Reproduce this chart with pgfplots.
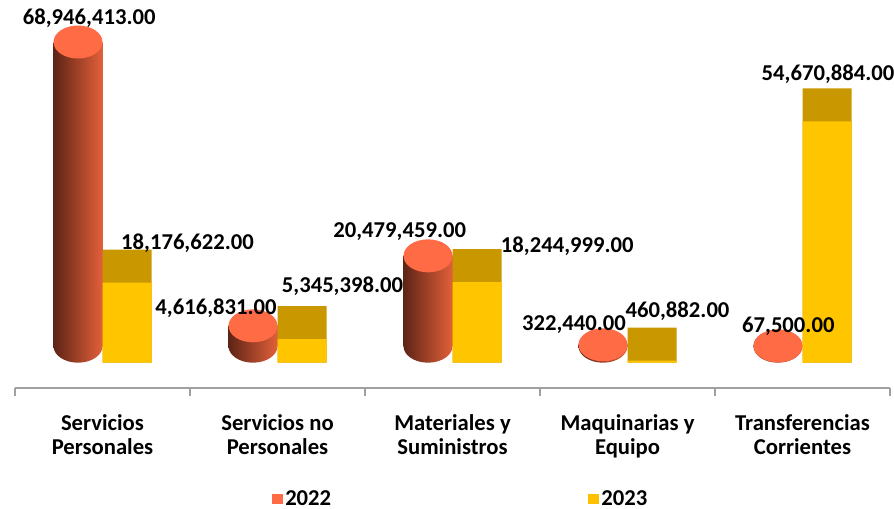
\documentclass[border=0pt]{standalone}
\usepackage{fontspec}
\setmainfont{Carlito}
\usepackage{pgfplots}
\usepackage{pgfplotstable}
\pgfplotsset{compat=1.18}
\definecolor{cA}{HTML}{5E2416}
\definecolor{cB}{HTML}{E2603A}
\definecolor{ctop}{HTML}{FF6B45}
\definecolor{boxtop}{HTML}{C99700}
\definecolor{boxfront}{HTML}{FFC600}
\definecolor{leg23}{HTML}{FFC000}
\definecolor{axgray}{HTML}{A0A0A0}
\newcommand\lbl{\fontsize{17}{18.4}\selectfont\bfseries}
\pgfdeclareplotmark{cylbot}{%
  \path[left color=cA, right color=cB, draw=none] (0pt,0pt) ellipse [x radius=18.375pt, y radius=12.375pt];}
\pgfdeclareplotmark{cyltop}{%
  \pgfpathellipse{\pgfpointorigin}{\pgfqpoint{18.375pt}{0pt}}{\pgfqpoint{0pt}{12.375pt}}%
  \pgfsetfillcolor{ctop}\pgfusepath{fill}}
\pgfdeclareplotmark{nothing}{}
\pgfplotstableread{
i v22 v23
0 68.946413 18.176622
1 4.616831 5.345398
2 20.479459 18.244999
3 0.32244 0.460882
4 0.0675 54.670884
}\datatab
\pgfplotstableread{
x y t
-0.076 78.01 68,946,413.00
0.4857 27.02 18,176,622.00
0.6486 12.28 4,616,831.00
1.3714 17.32 5,345,398.00
1.6983 29.69 20,479,459.00
2.656 26.41 18,244,999.00
2.694 8.545 322,440.00
3.286 11.56 460,882.00
3.919 8.25 67,500.00
4.146 65.50 54,670,884.00
}\labtab
\begin{document}
\begin{tikzpicture}
\path[use as bounding box] (-11.25pt,-90.75pt) rectangle (659.25pt,291pt);
% 2022 cylinders (value frame)
\begin{axis}[at={(0pt,0pt)}, anchor=south west, scale only axis,
  width=656.25pt, height=291pt, xmin=-0.5, xmax=4.5, ymin=-9.474, ymax=78.47,
  axis lines=none, clip=false,
  legend style={at={(rel axis cs:0.2937,-0.2865)}, anchor=west, draw=none, fill=none,
    inner sep=0pt, font=\lbl, nodes={inner sep=1.5pt}},
  legend image code/.code={\fill[#1] (0pt,-3.75pt) rectangle (8.25pt,3.75pt);}]
\addlegendimage{fill=ctop, draw=none}
\addlegendentry{2022}
\addplot[only marks, mark=cylbot] table[x expr=\thisrow{i}-0.14, y expr=0]{\datatab};
\pgfplotsinvokeforeach{0,1,2,3,4}{
\addplot[ybar, bar width=36.75pt, bar shift=-18.375pt, draw=none, left color=cA, right color=cB,
  restrict x to domain=#1:#1] table[x=i, y=v22]{\datatab};
}
\addplot[only marks, mark=cyltop] table[x expr=\thisrow{i}-0.14, y=v22]{\datatab};
\end{axis}
% 2023 boxes, axis, labels
\begin{axis}[at={(0pt,0pt)}, anchor=south west, scale only axis,
  width=656.25pt, height=291pt, xmin=-0.5, xmax=4.5, ymin=-5.734, ymax=82.21,
  axis x line*=bottom, axis y line=none, clip=false,
  x axis line style={-, draw=axgray, line width=1.5pt},
  xtick={0,1,2,3,4},
  xticklabels={{Servicios\\Personales},{Servicios no\\Personales},{Materiales y\\Suministros},{Maquinarias y\\Equipo},{Transferencias\\Corrientes}},
  major tick length=0pt,
  minor xtick={-0.5,0.5,1.5,2.5,3.5,4.5},
  minor tick length=6pt, tick align=outside,
  minor tick style={draw=axgray, line width=2pt},
  xticklabel style={font=\lbl, align=center, anchor=north, inner sep=0pt, yshift=-19.5pt},
  legend style={at={(rel axis cs:0.6549,-0.2865)}, anchor=west, draw=none, fill=none,
    inner sep=0pt, font=\lbl, nodes={inner sep=1.5pt}},
  legend image code/.code={\fill[#1] (0pt,-3.75pt) rectangle (8.25pt,3.75pt);}]
\addlegendimage{fill=leg23, draw=none}
\addlegendentry{2023}
\addplot[ybar, bar width=36.75pt, bar shift=18.375pt, draw=none, fill=boxtop] table[x=i, y expr=\thisrow{v23}+7.48]{\datatab};
\addplot[ybar, bar width=36.75pt, bar shift=18.375pt, draw=none, fill=boxfront] table[x=i, y=v23]{\datatab};
\addplot[only marks, mark=nothing,
  nodes near coords, point meta=explicit symbolic,
  nodes near coords style={anchor=center, inner sep=0pt, font=\lbl, text=black}]
  table[x=x, y=y, meta=t]{\labtab};
\end{axis}
\end{tikzpicture}
\end{document}
